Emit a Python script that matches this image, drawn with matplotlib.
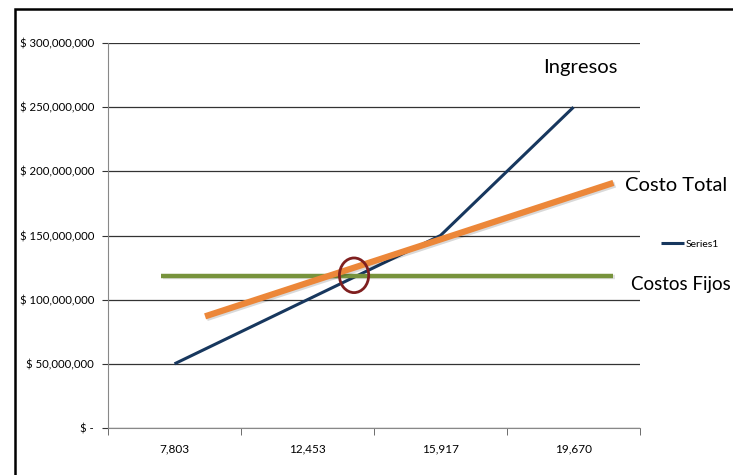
import numpy as np
import matplotlib
matplotlib.use("Agg")
import matplotlib.pyplot as plt
import matplotlib.patheffects as pe
from matplotlib.patches import Ellipse, Rectangle
from matplotlib.ticker import FuncFormatter

plt.rcParams['font.family'] = ['Lato', 'DejaVu Sans']

# unidades (categorias del eje x)
unidades = ["7,803", "12,453", "15,917", "19,670"]
ingresos = [50e6, 100e6, 150e6, 250e6]

# rectas dibujadas encima (posicion en indice de categoria)
costo_total_x = [0.23, 3.30]
costo_total = [87e6, 191e6]
costos_fijos_x = [-0.10, 3.30]
costos_fijos = [118.5e6, 118.5e6]

# punto de equilibrio
equilibrio_x = 1.35
equilibrio_y = 119e6

fig = plt.figure(figsize=(7.33, 4.75), dpi=100)
fig.patches.append(Rectangle((15 / 733, -0.1), 1.0, 1 - 9 / 475 + 0.1,
                             transform=fig.transFigure, fill=False,
                             edgecolor="black", linewidth=1.8))
ax = fig.add_axes([108 / 733, 47 / 475, 532 / 733, 385 / 475])

x = np.arange(len(unidades))
ax.plot(x, ingresos, color="#17375E", lw=2.2, label="Series1",
        solid_capstyle="butt", zorder=3)
ax.plot(costos_fijos_x, costos_fijos, color="#77933C", lw=3.2,
        solid_capstyle="butt", zorder=4,
        path_effects=[pe.SimpleLineShadow(offset=(1, -1), alpha=0.12), pe.Normal()])
ax.plot(costo_total_x, costo_total, color="#EC8739", lw=4.5,
        solid_capstyle="butt", zorder=5,
        path_effects=[pe.SimpleLineShadow(offset=(1.2, -1.2), alpha=0.15), pe.Normal()])

ax.add_patch(Ellipse((equilibrio_x, equilibrio_y), 0.22, 27e6, fill=False,
                     edgecolor="#7F1F1F", lw=2, zorder=6))

ax.set_xlim(-0.5, 3.5)
ax.set_ylim(0, 300e6)
ax.set_yticks(np.arange(0, 300e6 + 1, 50e6))
ax.yaxis.set_major_formatter(FuncFormatter(
    lambda v, p: "$ -" if v == 0 else f"$ {v:,.0f}"))
ax.set_xticks(x)
ax.set_xticklabels(unidades)
ax.set_xticks(np.arange(-0.5, 3.6, 1), minor=True)
ax.tick_params(axis="x", which="major", length=0, pad=11, labelsize=8.5)
ax.tick_params(axis="x", which="minor", length=5, color="#555555")
ax.tick_params(axis="y", length=4, color="#333333", labelsize=8.2, pad=6)
ax.grid(axis="y", color="#333333", lw=0.9)
ax.set_axisbelow(True)
for s in ["top", "right"]:
    ax.spines[s].set_visible(False)
ax.spines["left"].set_color("#888888")
ax.spines["bottom"].set_color("#888888")

ax.text(3.05, 281e6, "Ingresos", ha="center", va="center", fontsize=14.5, clip_on=False)
ax.text(3.39, 189e6, "Costo Total", ha="left", va="center", fontsize=14.5, clip_on=False)
ax.text(3.43, 112e6, "Costos Fijos", ha="left", va="center", fontsize=13.5, clip_on=False)

ax.legend(loc="center left", bbox_to_anchor=(652 / 733, 231 / 475),
          bbox_transform=fig.transFigure, frameon=False, fontsize=7.5,
          handlelength=2.2, handletextpad=0.1)

fig.savefig("out.png", dpi=100)
